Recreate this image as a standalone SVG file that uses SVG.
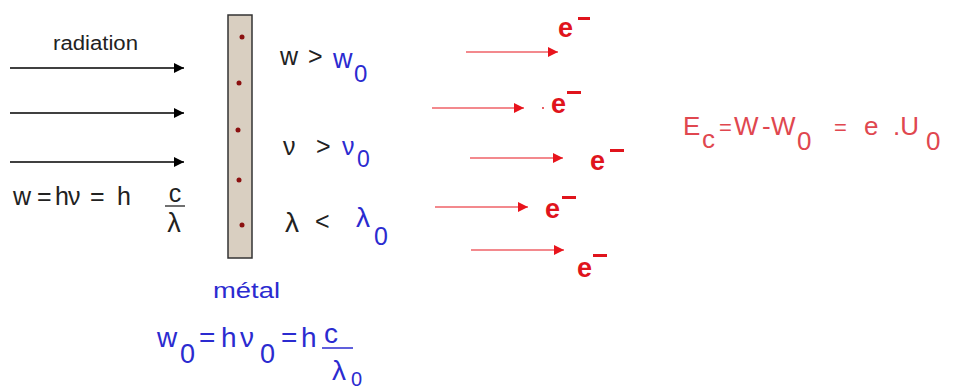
<svg xmlns="http://www.w3.org/2000/svg" width="960" height="390" viewBox="0 0 960 390">
<defs>
<marker id="ab" viewBox="0 0 10 10" refX="10" refY="5" markerWidth="13" markerHeight="10" markerUnits="userSpaceOnUse" orient="auto"><path d="M0,0 L10,5 L0,10 z" fill="#000"/></marker>
<marker id="ar" viewBox="0 0 10 10" refX="10" refY="5" markerWidth="13" markerHeight="10" markerUnits="userSpaceOnUse" orient="auto"><path d="M0,0 L10,5 L0,10 z" fill="#e8141c"/></marker>
</defs>
<style>
text{font-family:"Liberation Sans",Arial,sans-serif}
.k{fill:#222}
.b{fill:#2b2bd0}
.e{fill:#e0141c;font-weight:bold;font-size:27px}
.q{fill:#e0474f;font-size:26px}
.bl{stroke:#000;stroke-width:1.5}
.rl{stroke:#e8141c;stroke-width:1.2}
.dot{fill:#8b1010}
.bar{fill:#e0141c}
</style>
<rect width="960" height="390" fill="#fff"/>
<g id="connectors">
<line class="bl" x1="10" y1="68" x2="184" y2="68" marker-end="url(#ab)"/>
<line class="bl" x1="10" y1="113" x2="184" y2="113" marker-end="url(#ab)"/>
<line class="bl" x1="10" y1="162" x2="184" y2="162" marker-end="url(#ab)"/>
<line class="rl" x1="466" y1="52" x2="558" y2="52" marker-end="url(#ar)"/>
<line class="rl" x1="432" y1="108" x2="524" y2="108" marker-end="url(#ar)"/>
<line class="rl" x1="470" y1="158" x2="563" y2="158" marker-end="url(#ar)"/>
<line class="rl" x1="435" y1="207" x2="528" y2="207" marker-end="url(#ar)"/>
<line class="rl" x1="471" y1="250" x2="564" y2="250" marker-end="url(#ar)"/>
</g>
<g id="radiation">
<text x="53" y="50" font-size="20" textLength="85" lengthAdjust="spacingAndGlyphs" class="k">radiation</text>
<text y="205" font-size="25" class="k"><tspan x="13">w</tspan><tspan x="37">=</tspan><tspan x="55">h</tspan><tspan x="68">ν</tspan><tspan x="90">=</tspan><tspan x="117">h</tspan></text>
<text x="175" y="202" font-size="25" text-anchor="middle" class="k">c</text>
<line x1="165" y1="206" x2="185" y2="206" stroke="#222" stroke-width="1.3"/>
<text x="174" y="232" font-size="27" text-anchor="middle" class="k">λ</text>
</g>
<g id="metal">
<rect x="228" y="15" width="24" height="243" fill="#d9cfc1" stroke="#333" stroke-width="1.5"/>
<circle class="dot" cx="242" cy="37" r="2.5"/>
<circle class="dot" cx="239" cy="83" r="2.5"/>
<circle class="dot" cx="238" cy="130" r="2.5"/>
<circle class="dot" cx="239" cy="180" r="2.5"/>
<circle class="dot" cx="242" cy="225" r="2.5"/>
<text x="213" y="298" font-size="22" textLength="67" lengthAdjust="spacingAndGlyphs" class="b">métal</text>
<text font-size="28" class="b"><tspan x="157" y="347">w</tspan><tspan x="180" y="363" font-size="27">0</tspan><tspan x="199" y="347">=</tspan><tspan x="221" y="347">h</tspan><tspan x="240" y="347">ν</tspan><tspan x="260" y="363" font-size="27">0</tspan><tspan x="281" y="347">=</tspan><tspan x="301" y="347">h</tspan></text>
<text x="331" y="343" font-size="28" text-anchor="middle" class="b">c</text>
<line x1="322" y1="348" x2="353" y2="348" stroke="#2b2bd0" stroke-width="1.5"/>
<text font-size="28" class="b"><tspan x="332" y="380">λ</tspan><tspan x="351" y="386" font-size="20">0</tspan></text>
</g>
<g id="conditions">
<text font-size="25" class="k"><tspan x="280" y="65">w</tspan><tspan x="308" y="65">&gt;</tspan><tspan class="b" x="333" y="68" font-size="27">w</tspan><tspan class="b" x="354" y="82" font-size="24">0</tspan></text>
<text font-size="25" class="k"><tspan x="283" y="155">ν</tspan><tspan x="316" y="155">&gt;</tspan><tspan class="b" x="342" y="155">ν</tspan><tspan class="b" x="357" y="167" font-size="23">0</tspan></text>
<text font-size="28" class="k"><tspan x="285" y="232">λ</tspan><tspan x="315" y="230" font-size="25">&lt;</tspan><tspan class="b" x="356" y="227">λ</tspan><tspan class="b" x="374" y="245" font-size="25">0</tspan></text>
</g>
<g id="electrons">
<text class="e" x="558" y="37">e</text><rect class="bar" x="578" y="17" width="12" height="3"/>
<circle cx="543" cy="108" r="0.9" fill="#e0141c"/>
<text class="e" x="551" y="113">e</text><rect class="bar" x="567" y="91" width="14" height="3"/>
<text class="e" x="590" y="170">e</text><rect class="bar" x="610" y="149" width="14" height="3"/>
<text class="e" x="545" y="218">e</text><rect class="bar" x="562" y="196" width="14" height="3"/>
<text class="e" x="577" y="277">e</text><rect class="bar" x="593" y="254" width="14" height="3"/>
</g>
<g id="equation">
<text class="q"><tspan x="683" y="135">E</tspan><tspan x="702" y="148">c</tspan><tspan x="719" y="135" font-size="22">=</tspan><tspan x="734" y="135">W</tspan><tspan x="762" y="135">-</tspan><tspan x="771" y="135">W</tspan><tspan x="797" y="150">0</tspan><tspan x="834" y="135" font-size="22">=</tspan><tspan x="864" y="135">e</tspan><tspan x="893" y="135">.U</tspan><tspan x="926" y="150">0</tspan></text>
</g>
</svg>
